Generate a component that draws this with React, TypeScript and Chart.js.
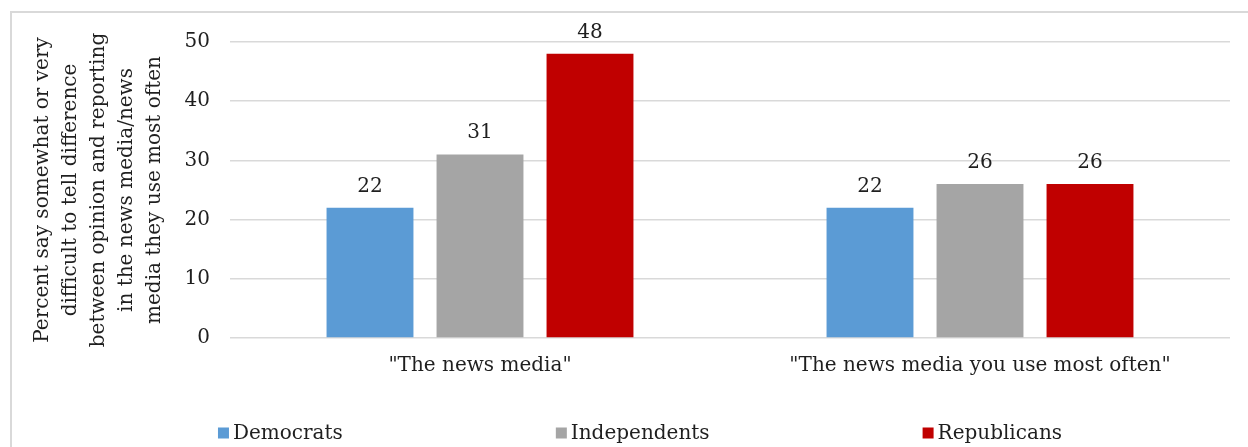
import React, { useEffect, useRef } from "react";
import { Chart, registerables } from "chart.js";

Chart.register(...registerables);

const categories = ['"The news media"', '"The news media you use most often"'];
const seriesNames = ["Democrats", "Independents", "Republicans"];
const democrats = [22, 22];
const independents = [31, 26];
const republicans = [48, 26];
const seriesColors = ["#5b9bd5", "#a5a5a5", "#c00000"];
const yTickValues = [0, 10, 20, 30, 40, 50];
const yTitle = [
  "Percent say somewhat or very",
  "difficult to tell difference",
  "between opinion and reporting",
  "in the news media/news",
  "media they use most often",
];

const FONT = "'DejaVu Serif', 'Liberation Serif', serif";
const TEXT = "#1f1f1f";

const dataLabelPlugin = {
  id: "dataLabels",
  afterDatasetsDraw(chart: any) {
    const ctx = chart.ctx;
    ctx.save();
    ctx.font = `20px ${FONT}`;
    ctx.fillStyle = TEXT;
    ctx.textAlign = "center";
    ctx.textBaseline = "alphabetic";
    chart.data.datasets.forEach((ds: any, i: number) => {
      const meta = chart.getDatasetMeta(i);
      meta.data.forEach((el: any, j: number) => {
        ctx.fillText(String(ds.data[j]), el.x, el.y - 16);
      });
    });
    ctx.restore();
  },
};

const legendPlugin = {
  id: "customLegend",
  afterDraw(chart: any) {
    const ctx = chart.ctx;
    ctx.save();
    ctx.font = `20px ${FONT}`;
    ctx.textBaseline = "middle";
    ctx.textAlign = "left";
    const box = 11;
    const gap = 4;
    const spacing = 213;
    const items = chart.data.datasets.map((ds: any) => ({
      text: ds.label,
      color: ds.backgroundColor,
      w: box + gap + ctx.measureText(ds.label).width,
    }));
    const total = items.reduce((s: number, it: any) => s + it.w, 0) + spacing * (items.length - 1);
    let x = 640 - total / 2;
    const y = 433;
    items.forEach((it: any) => {
      ctx.fillStyle = it.color;
      ctx.fillRect(x, y - box / 2, box, box);
      ctx.fillStyle = TEXT;
      ctx.fillText(it.text, x + box + gap, y + 1);
      x += it.w + spacing;
    });
    ctx.restore();
  },
};

export default function App() {
  const ref = useRef<HTMLCanvasElement | null>(null);

  useEffect(() => {
    if (!ref.current) return;
    const values = [democrats, independents, republicans];
    const chart = new Chart(ref.current, {
      type: "bar",
      data: {
        labels: categories,
        datasets: seriesNames.map((name, i) => ({
          label: name,
          data: values[i],
          backgroundColor: seriesColors[i],
          borderWidth: 0,
          barPercentage: 0.79,
          categoryPercentage: 0.66,
        })),
      },
      options: {
        responsive: false,
        animation: false,
        devicePixelRatio: 1,
        layout: { padding: { top: 42, right: 18, bottom: 53, left: 0 } },
        plugins: {
          legend: { display: false },
          tooltip: { enabled: false },
          title: { display: false },
        },
        scales: {
          x: {
            grid: { display: false, drawTicks: false },
            border: { display: false },
            ticks: {
              padding: 16,
              color: TEXT,
              font: { family: FONT, size: 20, lineHeight: 1.2 },
            },
          },
          y: {
            min: 0,
            max: 50,
            afterBuildTicks(scale: any) {
              scale.ticks = yTickValues.map((v) => ({ value: v }));
            },
            afterFit(scale: any) {
              scale.width = 230;
            },
            grid: { color: "#d9d9d9", lineWidth: 1.5, drawTicks: false },
            border: { display: false },
            ticks: {
              padding: 20,
              color: TEXT,
              font: { family: FONT, size: 20 },
            },
            title: {
              display: true,
              text: yTitle,
              color: TEXT,
              font: { family: FONT, size: 20, lineHeight: 1.4 },
              padding: { top: 29, bottom: 0 },
            },
          },
        },
      },
      plugins: [dataLabelPlugin, legendPlugin],
    });
    return () => chart.destroy();
  }, []);

  return (
    <div
      style={{
        position: "fixed",
        left: 0,
        top: 0,
        width: 1248,
        height: 447,
        overflow: "hidden",
        background: "#fff",
      }}
    >
      <div
        style={{
          position: "absolute",
          left: 10,
          top: 11,
          width: 1300,
          height: 500,
          border: "2px solid #d9d9d9",
        }}
      />
      <canvas
        ref={ref}
        width={1248}
        height={447}
        style={{ position: "absolute", left: 0, top: 0, width: 1248, height: 447 }}
      />
    </div>
  );
}
